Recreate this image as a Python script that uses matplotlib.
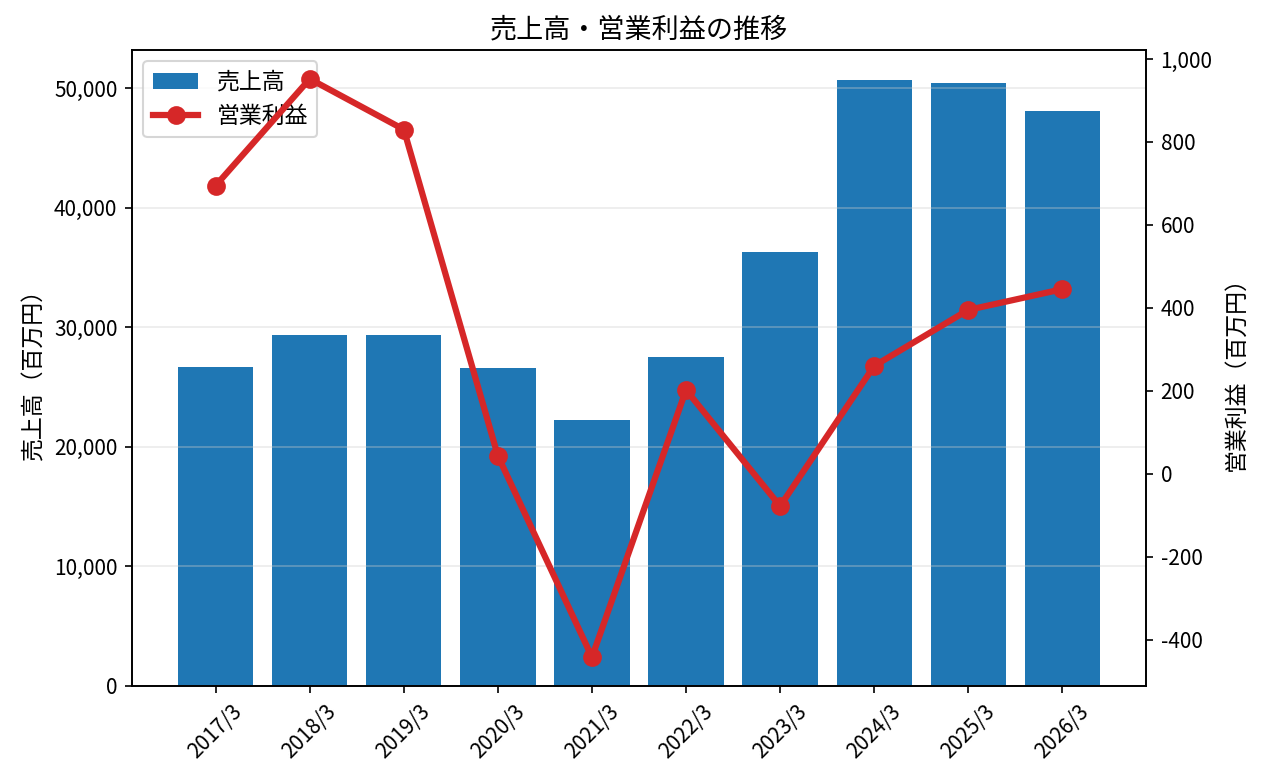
import matplotlib
matplotlib.use('Agg')
import matplotlib.pyplot as plt
from matplotlib.ticker import FuncFormatter

plt.rcParams['font.family'] = ['Noto Sans CJK JP', 'DejaVu Sans']

# データ（百万円）
years = ['2017/3', '2018/3', '2019/3', '2020/3', '2021/3',
         '2022/3', '2023/3', '2024/3', '2025/3', '2026/3']
sales = [26670, 29350, 29350, 26590, 22240, 27530, 36290, 50670, 50420, 48080]
op_profit = [695, 952, 830, 43, -442, 202, -78, 260, 395, 445]

fig = plt.figure(figsize=(1264 / 150, 784 / 150), dpi=150)
ax1 = fig.add_axes([132 / 1264, 1 - 686 / 784, (1146 - 132) / 1264, (686 - 50) / 784])
x = list(range(len(years)))

bars = ax1.bar(x, sales, width=0.8, color='#1f77b4', label='売上高')
ax1.set_ylabel('売上高（百万円）', fontsize=11)
ax1.yaxis.set_major_formatter(FuncFormatter(lambda v, p: f'{v:,.0f}'))
ax1.grid(axis='y', color='#cccccc', alpha=0.4, linewidth=0.8)
ax1.set_xticks(x)
ax1.set_xticklabels(years, rotation=45)
ax1.tick_params(labelsize=10)

ax2 = ax1.twinx()
line, = ax2.plot(x, op_profit, color='#d62728', marker='o', linewidth=3,
                 markersize=8, label='営業利益')
ax2.set_ylabel('営業利益（百万円）', fontsize=11, labelpad=6)
ax2.yaxis.set_major_formatter(FuncFormatter(lambda v, p: f'{v:,.0f}'))
ax2.tick_params(labelsize=10)

ax1.legend([bars, line], ['売上高', '営業利益'], loc='upper left', fontsize=11)
ax1.set_title('売上高・営業利益の推移', fontsize=13)

fig.savefig('out.png', dpi=150)
